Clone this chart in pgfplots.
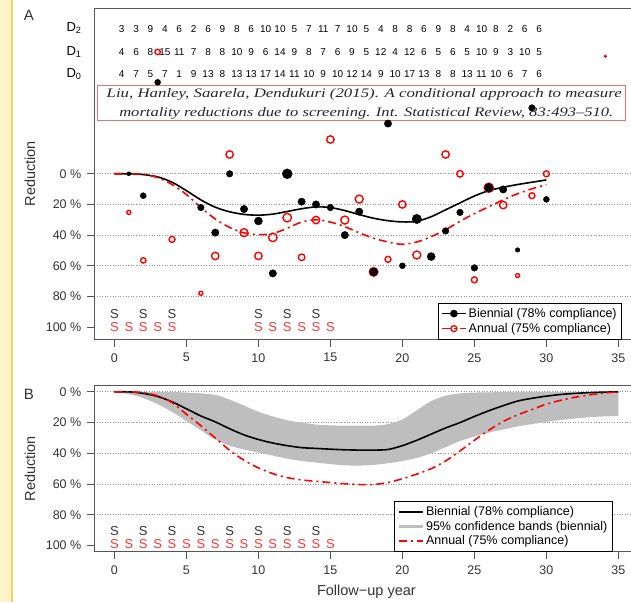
\documentclass[border=0pt]{standalone}
\usepackage{graphicx}
\usepackage{pgfplots}
\usepackage{pgfplotstable}
\pgfplotsset{compat=1.18}
\usepgfplotslibrary{fillbetween}
\usepackage{fontspec}
\setmainfont{Liberation Sans}
\newfontfamily\citefont{Liberation Serif}

\definecolor{stripfill}{HTML}{FFF4C8}
\definecolor{stripline}{HTML}{F5D160}
\definecolor{citered}{HTML}{F07070}
\definecolor{bandgray}{HTML}{BEBEBE}
\definecolor{framegray}{HTML}{555555}
\definecolor{sred}{HTML}{FF3535}
\definecolor{sgray}{HTML}{333333}

% deaths per year interval (D0, D1, D2)
\pgfplotstableread{
x    d0 d1 d2
0.5  4  4  3
1.5  7  6  3
2.5  5  8  9
3.5  7  15 4
4.5  1  11 6
5.5  9  7  2
6.5  13 8  6
7.5  8  8  9
8.5  13 10 8
9.5  13 9  6
10.5 17 6  10
11.5 14 14 10
12.5 11 9  5
13.5 10 8  7
14.5 9  7  11
15.5 10 6  7
16.5 12 9  10
17.5 14 5  5
18.5 9  12 4
19.5 10 4  8
20.5 17 12 8
21.5 13 6  6
22.5 8  5  9
23.5 8  6  8
24.5 13 5  4
25.5 11 10 10
26.5 10 9  8
27.5 6  3  2
28.5 7  10 6
29.5 6  5  6
}\deaths

% observed reductions, biennial (x, %, marker radius)
\pgfplotstableread{
x  y     r
1  0     2.0
2  14.3  3.0
3  -59.7 3.0
6  22    3.3
7  38.4  3.7
8  0     3.3
9  23    3.7
10 30.8  4.0
11 65    3.7
12 0     5.0
13 18.2  3.7
14 20    3.7
15 22    3.3
16 40    3.7
17 24.7  3.7
18 64    4.0
19 -32.8 3.7
20 60    3.0
21 29.5  4.7
22 54    4.0
23 37.3  3.3
24 25.2  3.3
25 61.4  3.3
26 9.1   4.3
27 10.2  3.7
28 49.7  2.3
29 -43   3.3
30 16.7  3.0
}\bienpts

% observed reductions, annual
\pgfplotstableread{
x    y     r
1    25.2  2.0
2    56.5  2.7
3    -79.5 2.7
4    42.8  3.0
6    78    2.0
7    53.6  3.7
8    -12.6 3.7
9    38.4  4.0
10   53.6  3.7
11   41.5  4.3
12   28.6  4.3
13   54.5  3.3
14   30.2  3.7
15   -22.4 3.7
16   30.2  4.0
17   16.5  4.0
18   64    4.3
19   55.8  3.0
20   20    3.7
21   53    4.0
23   -12.6 3.7
24   0     3.3
25   69.2  3.0
26   9.1   4.6
27   20.4  3.7
28   66.4  2.0
29   14.3  3.0
30   0     3.0
34.1 -76.7 0.8
}\annpts

\pgfplotstableread{
x  y
0  0
1  0
2  0.5
3  2
4  5.5
5  11
6  17
7  21.8
8  24.8
9  26.5
10 27
11 26.3
12 24.6
13 22.8
14 21.6
15 22
16 24
17 26.6
18 29
19 30.6
20 31.4
21 31
22 28
23 23.5
24 19
25 14.5
26 11
27 8.8
28 7
29 5.5
30 4
}\bienA

\pgfplotstableread{
x  y
0  0
1  0
2  0.3
3  2.5
4  7
5  13.5
6  22
7  29.5
8  35
9  38.5
10 39.7
11 39
12 35.5
13 31.5
14 30
15 31.5
16 34.5
17 38.5
18 42
19 44.5
20 46
21 44.5
22 41
23 36.5
24 31
25 26
26 21.5
27 17
28 13
29 9.8
30 7
}\annA

\pgfplotstableread{
x  yb   ya   lo   up
0  0    0    0    0
1  0    0    1.5  0
2  1    0.5  4    0
3  3    2.6  8    0
4  6.5  7    13   0
5  11   14.6 19   0.5
6  15.7 22   25   1
7  19.5 30   31   2
8  24   38   35   5
9  28   44.5 37.5 9
10 31   49.5 39.5 13
11 33.3 53.2 41.5 16
12 35   55.8 43.5 18.5
13 36.3 57.3 45   20
14 36.8 58.2 46   21.3
15 37.3 59   47   21.8
16 37.7 59.8 47.8 22
17 37.9 60.3 48   22
18 37.9 60.3 47.5 22
19 37.5 59   46.5 21
20 35   56.5 45   18
21 31.5 53.5 43   12
22 27.5 50   40   6
23 23.5 45   36   2.5
24 20   38.5 32   1
25 16   31.5 29   0.5
26 12.3 25   26.5 0.3
27 9    19.3 24.5 0.2
28 6    15   22.5 0.2
29 4.2  11.5 21   0.1
30 2.8  8    19.5 0.1
31 1.7  5.5  18.3 0
32 1    3.5  17.3 0
33 0.5  2    16.5 0
34 0.2  0.8  16   0
35 0    0    15.7 0
}\curvesB

% screening rounds (S rows): x, row position
\pgfplotstableread{
x  y
0  91.6
2  91.6
4  91.6
10 91.6
12 91.6
14 91.6
}\sbienA
\pgfplotstableread{
x  y
0  100.3
1  100.3
2  100.3
3  100.3
4  100.3
10 100.3
11 100.3
12 100.3
13 100.3
14 100.3
15 100.3
}\sannA
\pgfplotstableread{
x  y
0  90.8
2  90.8
4  90.8
6  90.8
8  90.8
10 90.8
12 90.8
14 90.8
}\sbienB
\pgfplotstableread{
x  y
0  98.9
1  98.9
2  98.9
3  98.9
4  98.9
5  98.9
6  98.9
7  98.9
8  98.9
9  98.9
10 98.9
11 98.9
12 98.9
13 98.9
14 98.9
15 98.9
}\sannB

\pgfplotsset{
  rpanel/.style={
    scale only axis, width=544.2pt,
    xmin=-1.4, xmax=36.4,
    y dir=reverse,
    clip=false,
    axis line style={framegray, line width=0.8pt},
    tick style={framegray, line width=0.8pt},
    major tick length=7.5pt,
    tick align=outside,
    xtick={0,5,...,35},
    ytick={0,20,...,80},
    yticklabels={0 \%,20 \%,40 \%,60 \%,80 \%},
    extra y ticks={100},
    extra y tick labels={100 \%},
    extra y tick style={grid=none},
    xtick pos=bottom, ytick pos=left,
    ymajorgrids,
    grid style={gray!85, dash pattern=on 0.8pt off 1.8pt, line width=0.7pt},
    tick label style={font=\fontsize{12.5}{14}\selectfont, text=sgray},
    xticklabel style={yshift=-3pt},
    yticklabel style={xshift=-2pt},
    /pgf/number format/assume math mode=true,
    legend cell align=left,
    legend image code/.code={\draw[mark repeat=2, mark phase=2, ##1] plot coordinates {(0pt,0pt) (12pt,0pt) (24pt,0pt)};},
  },
  sized/.style={
    visualization depends on={\thisrow{r}\as\rr},
    scatter/@pre marker code/.append style={/tikz/mark size=\rr}},
  textrow/.style={only marks, mark=*, mark size=0pt, forget plot,
    mark options={draw=none, fill=none},
    nodes near coords={#1},
    every node near coord/.append style={anchor=center, inner sep=0pt}},
  dashdot/.style={dash pattern=on 8pt off 4pt on 2pt off 4pt},
}

\begin{document}
\begin{tikzpicture}
% left strip
\fill[stripfill] (0pt,0pt) rectangle (12pt,602pt);
\draw[stripline, line width=1.2pt] (12pt,0pt) -- (12pt,602pt);

% citation box
\draw[citered, line width=0.8pt] (97.7pt,481.3pt) rectangle (625pt,516.7pt);
\node[text=black!85, font=\citefont\itshape\fontsize{13}{14}\selectfont] at (364.2pt,507.5pt)
  {\resizebox{515pt}{\height}{Liu, Hanley, Saarela, Dendukuri (2015). A conditional approach to measure}};
\node[text=black!85, font=\citefont\itshape\fontsize{13}{14}\selectfont] at (366.3pt,489pt)
  {\resizebox{494pt}{\height}{mortality reductions due to screening. Int. Statistical Review, 83:493–510.}};

% ---------------- panel A ----------------
\begin{axis}[rpanel,
  at={(94.3pt,262.7pt)}, anchor=south west,
  height=331pt, ymin=-108, ymax=108,
  legend style={at={(0.631,0)}, anchor=south west, draw=black, line width=0.8pt,
    fill=white, font=\fontsize{12.5}{15}\selectfont, text=black,
    inner xsep=3pt, inner ysep=3pt, row sep=0.5pt},
]
\addlegendimage{black, line width=1.6pt, mark=*, mark size=3pt}
\addlegendentry{Biennial (78\% compliance)}
\addlegendimage{red, line width=1.6pt, dashdot, mark=o, mark size=3pt, mark options={solid, line width=1.3pt}}
\addlegendentry{Annual (75\% compliance)}

\addplot[textrow={\pgfplotspointmeta}, point meta=explicit symbolic,
  every node near coord/.append style={font=\fontsize{10}{10}\selectfont, text=black}]
  table[x=x, y expr=-94.7, meta=d2] {\deaths};
\addplot[textrow={\pgfplotspointmeta}, point meta=explicit symbolic,
  every node near coord/.append style={font=\fontsize{10}{10}\selectfont, text=black}]
  table[x=x, y expr=-79.5, meta=d1] {\deaths};
\addplot[textrow={\pgfplotspointmeta}, point meta=explicit symbolic,
  every node near coord/.append style={font=\fontsize{10}{10}\selectfont, text=black}]
  table[x=x, y expr=-64.9, meta=d0] {\deaths};

\addplot[textrow={S}, every node near coord/.append style={font=\fontsize{13}{14}\selectfont, text=sgray}]
  table[x=x, y=y] {\sbienA};
\addplot[textrow={S}, every node near coord/.append style={font=\fontsize{13}{14}\selectfont, text=sred}]
  table[x=x, y=y] {\sannA};

\addplot[black, line width=1.6pt, smooth, forget plot] table[x=x, y=y] {\bienA};
\addplot[red, line width=1.6pt, smooth, dashdot, forget plot] table[x=x, y=y] {\annA};

\addplot[scatter, only marks, forget plot, mark=o,
  scatter/use mapped color={draw=red}, sized,
  mark options={line width=1.4pt}]
  table[x=x, y=y] {\annpts};
\addplot[scatter, only marks, forget plot, mark=*,
  scatter/use mapped color={draw=black, fill=black}, sized]
  table[x=x, y=y] {\bienpts};
\end{axis}

% ---------------- panel B ----------------
\begin{axis}[rpanel,
  at={(94.3pt,50.3pt)}, anchor=south west,
  height=166pt, ymin=-4, ymax=104,
  legend style={at={(0.551,0)}, anchor=south west, draw=black, line width=0.8pt,
    fill=white, font=\fontsize{12.5}{15}\selectfont, text=black,
    inner xsep=3pt, inner ysep=3pt, row sep=0pt},
]
\addlegendimage{black, line width=1.6pt}
\addlegendentry{Biennial (78\% compliance)}
\addlegendimage{bandgray, line width=2.5pt}
\addlegendentry{95\% confidence bands (biennial)}
\addlegendimage{red, line width=1.6pt, dashdot}
\addlegendentry{Annual (75\% compliance)}

\addplot[name path=up, draw=none, smooth, forget plot] table[x=x, y=up] {\curvesB};
\addplot[name path=lo, draw=none, smooth, forget plot] table[x=x, y=lo] {\curvesB};
\addplot[bandgray, draw=none, forget plot] fill between[of=up and lo];

\addplot[black, line width=1.6pt, smooth, forget plot] table[x=x, y=yb] {\curvesB};
\addplot[red, line width=1.6pt, smooth, dashdot, forget plot] table[x=x, y=ya] {\curvesB};

\addplot[textrow={S}, every node near coord/.append style={font=\fontsize{13}{14}\selectfont, text=sgray}]
  table[x=x, y=y] {\sbienB};
\addplot[textrow={S}, every node near coord/.append style={font=\fontsize{13}{14}\selectfont, text=sred}]
  table[x=x, y=y] {\sannB};
\end{axis}

% labels outside the axes
\node[rotate=90, font=\fontsize{14.5}{16}\selectfont, text=sgray] at (30pt,428.3pt) {Reduction};
\node[rotate=90, font=\fontsize{14.5}{16}\selectfont, text=sgray] at (30pt,133.3pt) {Reduction};
\node[font=\fontsize{14.5}{16}\selectfont, text=sgray] at (366.4pt,10.3pt) {Follow−up year};
\node[font=\fontsize{15}{16}\selectfont, text=sgray] at (29pt,587pt) {A};
\node[font=\fontsize{15}{16}\selectfont, text=sgray] at (29pt,208pt) {B};
\node[font=\fontsize{13}{14}\selectfont, text=black] at (74pt,573.7pt) {D\textsubscript{2}};
\node[font=\fontsize{13}{14}\selectfont, text=black] at (74pt,550.3pt) {D\textsubscript{1}};
\node[font=\fontsize{13}{14}\selectfont, text=black] at (74pt,528pt) {D\textsubscript{0}};

\pgfresetboundingbox
\path[use as bounding box] (0pt,0pt) rectangle (631pt,602pt);
\end{tikzpicture}
\end{document}
